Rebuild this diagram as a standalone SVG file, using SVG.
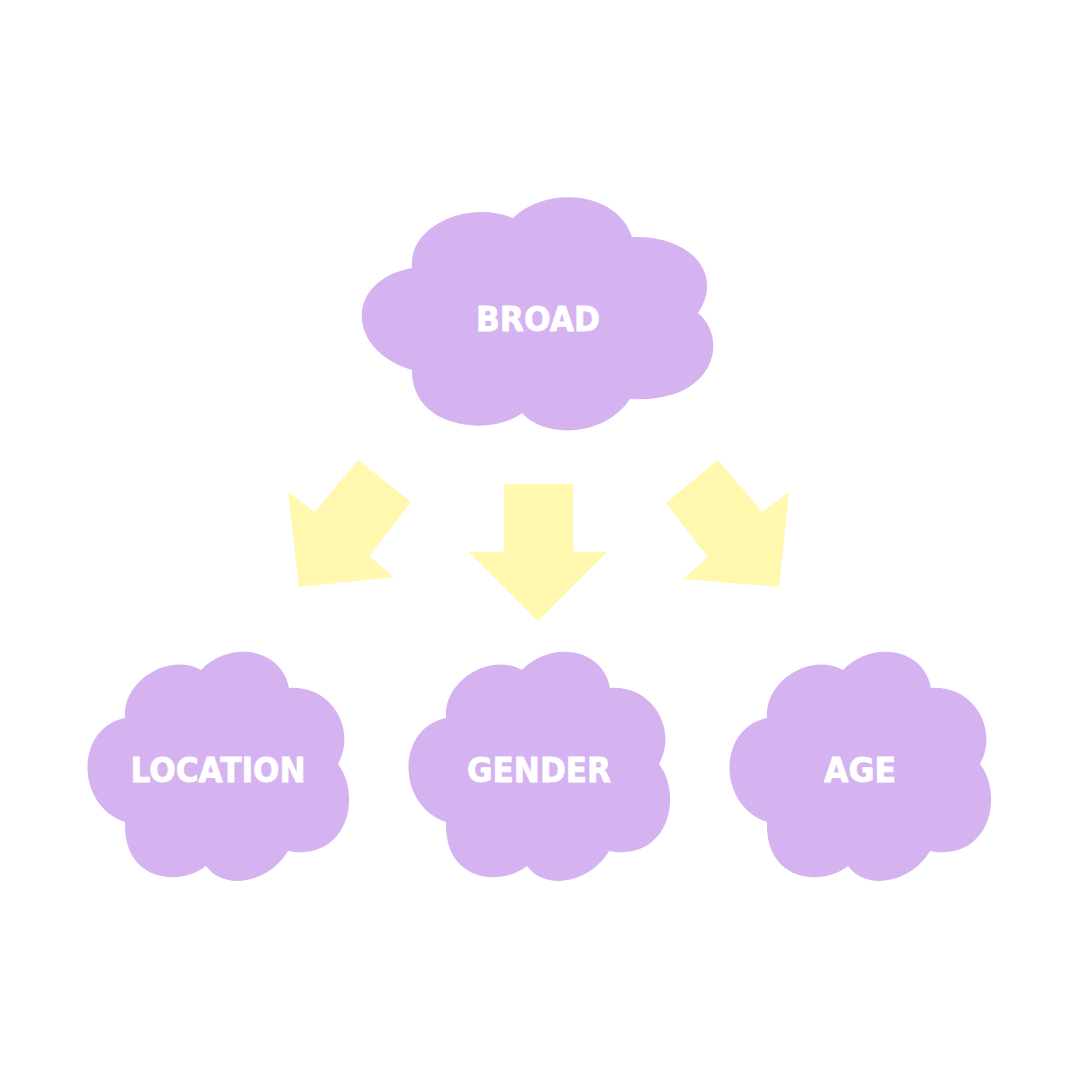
<svg xmlns="http://www.w3.org/2000/svg" width="1080" height="1080" viewBox="0 0 1080 1080">
<defs>
<style>
.cloud{fill:#D5B3F1}
.arrow{fill:#FFF8AE}
.lbl{font-family:"DejaVu Sans","Liberation Sans",sans-serif;font-weight:bold;font-size:33px;fill:#FFFFFF;stroke:#FFFFFF;stroke-width:0.8;text-anchor:middle}
</style>
<path id="small" d="M125,718 C122,680 170,652 201,670 C230,640 282,648 289,688 C332,685 357,730 338,764 C362,795 348,862 288,851 C270,882 225,892 206,866 C180,887 123,882 125,822 C75,805 75,728 125,718 Z"/>
</defs>
<rect width="1080" height="1080" fill="#FFFFFF"/>
<g id="connectors">
<polygon class="arrow" points="288,492 315,512 358,460 411,502 369,556 394,577 299,587"/>
<polygon class="arrow" points="504,484 573,484 573,552 607,552 538,621 469,552 504,552"/>
<polygon class="arrow" points="666,503 718,460 762,512 789,492 779,587 683,579 708,557"/>
</g>
<g id="broad">
<path class="cloud" d="M412,268 C408,225 470,200 513,218 C545,186 617,190 632,237 C692,235 724,275 698,313 C730,340 714,404 630,399 C605,437 545,439 522,413 C490,437 411,429 412,370 C345,350 345,280 412,268 Z"/>
<text class="lbl" x="538" y="331" textLength="124" lengthAdjust="spacingAndGlyphs">BROAD</text>
</g>
<g id="location">
<use href="#small" class="cloud"/>
<text class="lbl" x="218" y="782" textLength="175" lengthAdjust="spacingAndGlyphs">LOCATION</text>
</g>
<g id="gender">
<use href="#small" class="cloud" transform="translate(321,0)"/>
<text class="lbl" x="539" y="782" textLength="144" lengthAdjust="spacingAndGlyphs">GENDER</text>
</g>
<g id="age">
<use href="#small" class="cloud" transform="translate(642,0)"/>
<text class="lbl" x="860" y="782" textLength="72" lengthAdjust="spacingAndGlyphs">AGE</text>
</g>
</svg>
